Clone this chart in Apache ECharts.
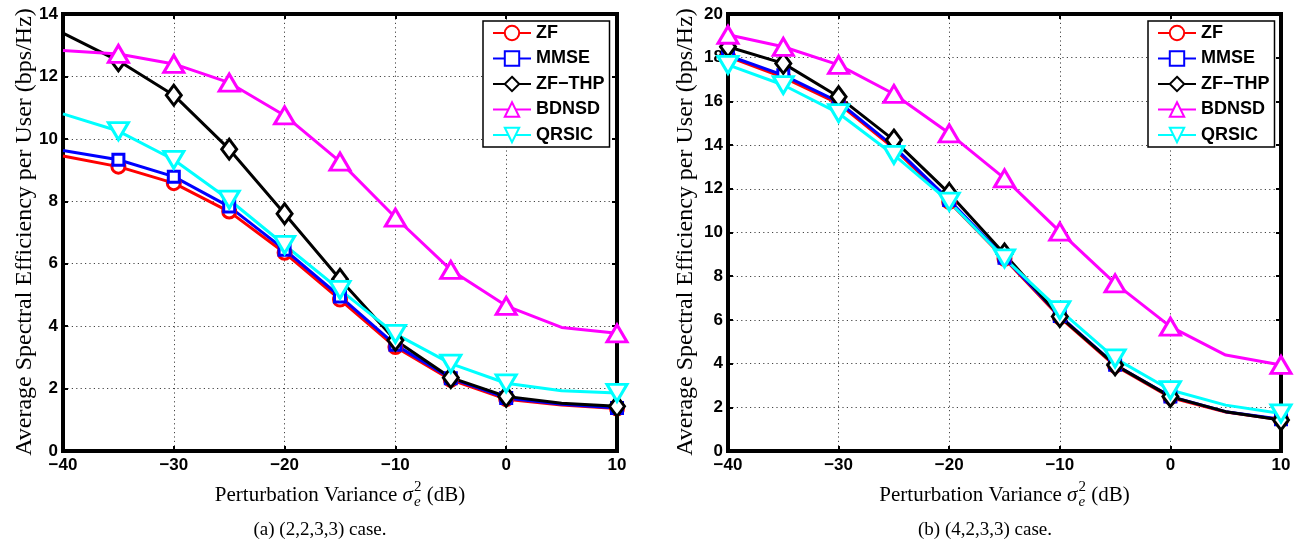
<!DOCTYPE html>
<html><head><meta charset="utf-8">
<script src="https://cdn.jsdelivr.net/npm/echarts@6/dist/echarts.min.js"></script>
<style>html,body{margin:0;padding:0;background:#fff}#c{width:1310px;height:543px}</style>
</head><body><div id="c"></div>
<script>
// ---------- data ----------
const xValues = [-40, -35, -30, -25, -20, -15, -10, -5, 0, 5, 10];
const seriesNames = ['ZF', 'MMSE', 'ZF\u2212THP', 'BDNSD', 'QRSIC'];

// (a) (2,2,3,3) case
const zfA    = [9.45, 9.11, 8.58, 7.67, 6.35, 4.85, 3.33, 2.28, 1.66, 1.47, 1.36];
const mmseA  = [9.63, 9.33, 8.79, 7.83, 6.45, 4.95, 3.40, 2.33, 1.70, 1.50, 1.38];
const zfthpA = [13.39, 12.50, 11.40, 9.67, 7.60, 5.50, 3.55, 2.35, 1.75, 1.53, 1.43];
const bdnsdA = [12.83, 12.72, 12.40, 11.80, 10.75, 9.27, 7.48, 5.80, 4.65, 3.96, 3.77];
const qrsicA = [10.80, 10.25, 9.33, 8.05, 6.60, 5.16, 3.75, 2.80, 2.17, 1.93, 1.86];

// (b) (4,2,3,3) case
const zfB    = [18.05, 17.10, 15.90, 13.85, 11.40, 8.80, 6.12, 3.90, 2.45, 1.78, 1.43];
const mmseB  = [18.10, 17.20, 15.98, 13.93, 11.49, 8.85, 6.18, 3.95, 2.50, 1.80, 1.45];
const zfthpB = [18.50, 17.74, 16.21, 14.23, 11.79, 9.02, 6.15, 3.94, 2.49, 1.80, 1.42];
const bdnsdB = [19.05, 18.50, 17.67, 16.34, 14.54, 12.48, 10.04, 7.67, 5.69, 4.39, 3.94];
const qrsicB = [17.67, 16.75, 15.46, 13.55, 11.41, 8.82, 6.45, 4.24, 2.79, 2.10, 1.72];

const yTicksA = {min: 0, max: 14, interval: 2};
const yTicksB = {min: 0, max: 20, interval: 2};
const xTicks = {min: -40, max: 10, interval: 10};

// x positions drawn without a marker
const noMarkerA = [-40, 5];
const noMarkerB = [5];

const yTitle = 'Average Spectral Efficiency per User (bps/Hz)';
const captionA = '(a) (2,2,3,3) case.';
const captionB = '(b) (4,2,3,3) case.';

// ---------- styles ----------
const styles = [
  {color: '#ff0000', symbol: 'circle', size: 13, rotate: 0},
  {color: '#0000ff', symbol: 'rect', size: 11, rotate: 0},
  {color: '#000000', symbol: 'diamond', size: [15, 20], rotate: 0},
  {color: '#ff00ff', symbol: 'triangle', size: [20, 17], rotate: 0},
  {color: '#00ffff', symbol: 'triangle', size: [20, 17], rotate: 180}
];

function mkData(vals, noMark) {
  return xValues.map((x, i) => {
    const d = {value: [x, vals[i]]};
    if (noMark.includes(x)) d.symbol = 'none';
    return d;
  });
}

function mkSeries(valsList, noMark, axisIdx) {
  return valsList.map((vals, k) => {
    const s = styles[k];
    return {
      type: 'line', name: seriesNames[k],
      xAxisIndex: axisIdx, yAxisIndex: axisIdx,
      data: mkData(vals, noMark),
      symbol: s.symbol, symbolSize: s.size, symbolRotate: s.rotate,
      showAllSymbol: true,
      lineStyle: {color: s.color, width: 3},
      itemStyle: {color: '#ffffff', borderColor: s.color, borderWidth: 3},
      emphasis: {disabled: true},
      animation: false
    };
  });
}

const fmt = v => String(v).replace('-', '\u2212');
const labelFont = {fontFamily: 'Liberation Sans', fontWeight: 'bold', fontSize: 17, color: '#000'};
const gridLine = {show: true, lineStyle: {color: '#444', width: 1, type: [1.2, 3.2]}};

function mainX(gi) {
  return Object.assign({
    type: 'value', gridIndex: gi, position: 'bottom',
    axisLine: {show: true, onZero: false, lineStyle: {color: '#000', width: 4}},
    axisTick: {show: true, inside: true, length: 5, lineStyle: {color: '#000', width: 2}},
    axisLabel: Object.assign({margin: 6, formatter: fmt}, labelFont),
    splitLine: gridLine
  }, xTicks);
}
function topX(gi) {
  return Object.assign({
    type: 'value', gridIndex: gi, position: 'top',
    axisLine: {show: true, onZero: false, lineStyle: {color: '#000', width: 4}},
    axisTick: {show: true, inside: true, length: 5, lineStyle: {color: '#000', width: 2}},
    axisLabel: {show: false}, splitLine: {show: false}
  }, xTicks);
}
function mainY(gi, t) {
  return Object.assign({
    type: 'value', gridIndex: gi, position: 'left',
    axisLine: {show: true, onZero: false, lineStyle: {color: '#000', width: 4}},
    axisTick: {show: true, inside: true, length: 5, lineStyle: {color: '#000', width: 2}},
    axisLabel: Object.assign({margin: 5, formatter: fmt}, labelFont),
    splitLine: gridLine
  }, t);
}
function rightY(gi, t) {
  return Object.assign({
    type: 'value', gridIndex: gi, position: 'right',
    axisLine: {show: true, onZero: false, lineStyle: {color: '#000', width: 4}},
    axisTick: {show: true, inside: true, length: 5, lineStyle: {color: '#000', width: 2}},
    axisLabel: {show: false}, splitLine: {show: false}
  }, t);
}

function mkLegend(left) {
  return {
    orient: 'vertical', left: left, top: 21,
    padding: [3, 5, 3, 9],
    itemWidth: 38, itemHeight: 18, itemGap: 7.5,
    backgroundColor: '#fff', borderColor: '#000', borderWidth: 1.5,
    selectedMode: false,
    textStyle: {fontFamily: 'Liberation Sans', fontWeight: 'bold', fontSize: 18, color: '#000'},
    data: seriesNames
  };
}

// ---------- text helpers ----------
const ctx = document.createElement('canvas').getContext('2d');
function tw(text, font) { ctx.font = font; return ctx.measureText(text).width; }

const serif = 'Liberation Serif';
function xTitleEls(cx) {
  const fs = 21, ss = 15;
  const p1 = 'Perturbation Variance ', sig = '\u03C3', p3 = ' (dB)';
  const w1 = tw(p1, fs + 'px "' + serif + '"');
  const wS = tw(sig, 'italic ' + fs + 'px "' + serif + '"');
  const wSc = Math.max(tw('2', ss + 'px "' + serif + '"'), tw('e', 'italic ' + ss + 'px "' + serif + '"'));
  const w3 = tw(p3, fs + 'px "' + serif + '"');
  const total = w1 + wS + 1 + wSc + w3;
  let x = cx - total / 2;
  const y = 495;
  const base = {fill: '#000', fontFamily: serif, verticalAlign: 'middle', align: 'left'};
  const els = [];
  els.push({type: 'text', x: x, y: y, style: Object.assign({text: p1, fontSize: fs}, base)});
  x += w1;
  els.push({type: 'text', x: x, y: y, style: Object.assign({text: sig, fontSize: fs, fontStyle: 'italic'}, base)});
  x += wS + 1;
  els.push({type: 'text', x: x, y: 487, style: Object.assign({text: '2', fontSize: ss}, base)});
  els.push({type: 'text', x: x, y: 502, style: Object.assign({text: 'e', fontSize: ss, fontStyle: 'italic'}, base)});
  x += wSc;
  els.push({type: 'text', x: x, y: y, style: Object.assign({text: p3, fontSize: fs}, base)});
  return els;
}
function yTitleEl(cx) {
  return {type: 'text', x: cx, y: 232, rotation: Math.PI / 2,
    style: {text: yTitle, fontFamily: serif, fontSize: 24, fill: '#000', align: 'center', verticalAlign: 'middle'}};
}
function captionEl(cx, text) {
  return {type: 'text', x: cx, y: 530,
    style: {text: text, fontFamily: serif, fontSize: 19, fill: '#000', align: 'center', verticalAlign: 'middle'}};
}

const chart = echarts.init(document.getElementById('c'), null, {renderer: 'canvas'});
const option = {
  animation: false,
  backgroundColor: '#fff',
  grid: [
    {left: 63, top: 14, width: 554, height: 437, show: true, borderColor: '#000', borderWidth: 4, containLabel: false},
    {left: 728, top: 14, width: 553, height: 437, show: true, borderColor: '#000', borderWidth: 4, containLabel: false}
  ],
  xAxis: [mainX(0), topX(0), mainX(1), topX(1)],
  yAxis: [mainY(0, yTicksA), rightY(0, yTicksA), mainY(1, yTicksB), rightY(1, yTicksB)],
  legend: [mkLegend(483), mkLegend(1148)],
  series: [].concat(
    mkSeries([zfA, mmseA, zfthpA, bdnsdA, qrsicA], noMarkerA, 0),
    mkSeries([zfB, mmseB, zfthpB, bdnsdB, qrsicB], noMarkerB, 2)
  ),
  graphic: [].concat(
    xTitleEls(340), xTitleEls(1004.5),
    [yTitleEl(24.5), yTitleEl(686), captionEl(320, captionA), captionEl(985, captionB)]
  )
};
chart.setOption(option);
</script></body></html>
